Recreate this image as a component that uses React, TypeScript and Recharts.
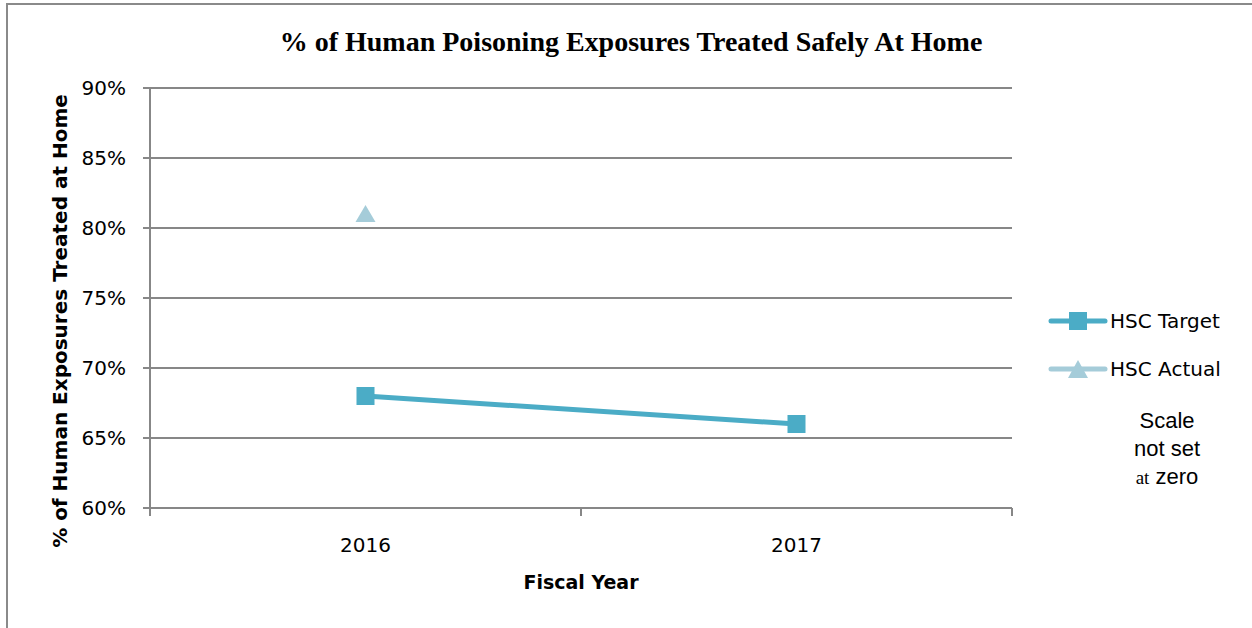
import React from 'react';
import { LineChart, Line, XAxis, YAxis, CartesianGrid, Legend } from 'recharts';

const years = ['2016', '2017'];
const hscTarget = [68, 66];
const hscActual: (number | null)[] = [81, null];
const yTicks = [60, 65, 70, 75, 80, 85, 90];

const data = years.map((year, i) => ({ year, target: hscTarget[i], actual: hscActual[i] }));

const PLOT_LEFT = 150;
const PLOT_RIGHT = 1012;
const PLOT_BOTTOM = 508;
const GRID = '#878787';
const TARGET = '#4BACC6';
const ACTUAL = '#A5CCD9';
const halfBand = (PLOT_RIGHT - PLOT_LEFT) / years.length / 2;

const Square = (props: any) => {
  const { cx, cy } = props;
  if (cx == null || cy == null) return null;
  return <rect x={cx - 9} y={cy - 9} width={18} height={18} fill={TARGET} />;
};

const Triangle = (props: any) => {
  const { cx, cy } = props;
  if (cx == null || cy == null) return null;
  return <polygon points={`${cx},${cy - 9} ${cx + 10},${cy + 8} ${cx - 10},${cy + 8}`} fill={ACTUAL} />;
};

// labels sit in the middle of each band, tick marks on the band edges
const XTick = (props: any) => {
  const { x, payload, index } = props;
  return (
    <g>
      <line x1={x - halfBand} x2={x - halfBand} y1={PLOT_BOTTOM} y2={PLOT_BOTTOM + 8} stroke={GRID} strokeWidth={2} />
      {index === years.length - 1 && (
        <line x1={x + halfBand} x2={x + halfBand} y1={PLOT_BOTTOM} y2={PLOT_BOTTOM + 8} stroke={GRID} strokeWidth={2} />
      )}
      <text x={x} y={PLOT_BOTTOM + 44} textAnchor="middle" fill="#000" fontSize={20} fontFamily="DejaVu Sans">
        {payload.value}
      </text>
    </g>
  );
};

const legendItems = [
  { name: 'HSC Target', color: TARGET, shape: 'square' },
  { name: 'HSC Actual', color: ACTUAL, shape: 'triangle' },
];

const renderLegend = () => (
  <div>
    {legendItems.map((item) => (
      <div key={item.name} style={{ display: 'flex', alignItems: 'center', height: 48 }}>
        <svg width={60} height={24} style={{ marginRight: 2 }}>
          <line x1={3} x2={57} y1={12} y2={12} stroke={item.color} strokeWidth={5} strokeLinecap="round" />
          {item.shape === 'square' ? (
            <rect x={21} y={3} width={18} height={18} fill={item.color} />
          ) : (
            <polygon points="30,3 40,21 20,21" fill={item.color} />
          )}
        </svg>
        <span style={{ fontFamily: 'DejaVu Sans', fontSize: 20, color: '#000', whiteSpace: 'nowrap' }}>{item.name}</span>
      </div>
    ))}
  </div>
);

export default function App() {
  return (
    <div style={{ position: 'absolute', left: 0, top: 0, width: 1252, height: 628, background: '#fff' }}>
      <div
        style={{
          position: 'absolute',
          left: 6,
          top: 3,
          width: 1246,
          height: 625,
          borderTop: '2px solid #8a8a8a',
          borderLeft: '2px solid #8a8a8a',
        }}
      />
      <div
        style={{
          position: 'absolute',
          left: 131,
          top: 28,
          width: 1000,
          textAlign: 'center',
          fontFamily: 'Liberation Serif',
          fontWeight: 'bold',
          fontSize: 28,
          lineHeight: '28px',
          whiteSpace: 'nowrap',
        }}
      >
        % of Human Poisoning Exposures Treated Safely At Home
      </div>
      <LineChart
        width={1252}
        height={628}
        data={data}
        margin={{ top: 88, right: 240, bottom: 60, left: 90 }}
        style={{ position: 'absolute', left: 0, top: 0 }}
      >
        <CartesianGrid vertical={false} stroke={GRID} strokeWidth={2} />
        <XAxis
          dataKey="year"
          scale="band"
          height={60}
          stroke={GRID}
          strokeWidth={2}
          tickLine={false}
          tick={<XTick />}
          interval={0}
        />
        <YAxis
          width={60}
          domain={[60, 90]}
          ticks={yTicks}
          tickFormatter={(v: number) => `${v}%`}
          stroke={GRID}
          strokeWidth={2}
          tickSize={7}
          tickMargin={17}
          tick={{ fill: '#000', fontSize: 20, fontFamily: 'DejaVu Sans' }}
        />
        <Line
          dataKey="target"
          name="HSC Target"
          stroke={TARGET}
          strokeWidth={5}
          dot={<Square />}
          activeDot={false}
          isAnimationActive={false}
        />
        <Line
          dataKey="actual"
          name="HSC Actual"
          stroke={ACTUAL}
          strokeWidth={5}
          dot={<Triangle />}
          activeDot={false}
          isAnimationActive={false}
        />
        <Legend
          layout="vertical"
          align="center"
          verticalAlign="middle"
          content={renderLegend}
          wrapperStyle={{ left: 1048, top: 297, width: 200 }}
        />
      </LineChart>
      <div
        style={{
          position: 'absolute',
          left: 60 - 300,
          top: 321 - 12,
          width: 600,
          height: 24,
          lineHeight: '24px',
          textAlign: 'center',
          transform: 'rotate(-90deg)',
          fontFamily: 'DejaVu Sans',
          fontWeight: 'bold',
          fontSize: 20,
          whiteSpace: 'nowrap',
        }}
      >
        % of Human Exposures Treated at Home
      </div>
      <div
        style={{
          position: 'absolute',
          left: 481,
          top: 570,
          width: 200,
          textAlign: 'center',
          fontFamily: 'DejaVu Sans',
          fontWeight: 'bold',
          fontSize: 19,
          lineHeight: '24px',
        }}
      >
        Fiscal Year
      </div>
      <div
        style={{
          position: 'absolute',
          left: 1087,
          top: 407,
          width: 160,
          textAlign: 'center',
          fontFamily: 'Liberation Sans',
          fontSize: 22,
          lineHeight: '28px',
          color: '#000',
        }}
      >
        <div>Scale</div>
        <div>not set</div>
        <div>
          <span style={{ fontFamily: 'Liberation Serif', fontSize: 19 }}>at</span> zero
        </div>
      </div>
    </div>
  );
}
